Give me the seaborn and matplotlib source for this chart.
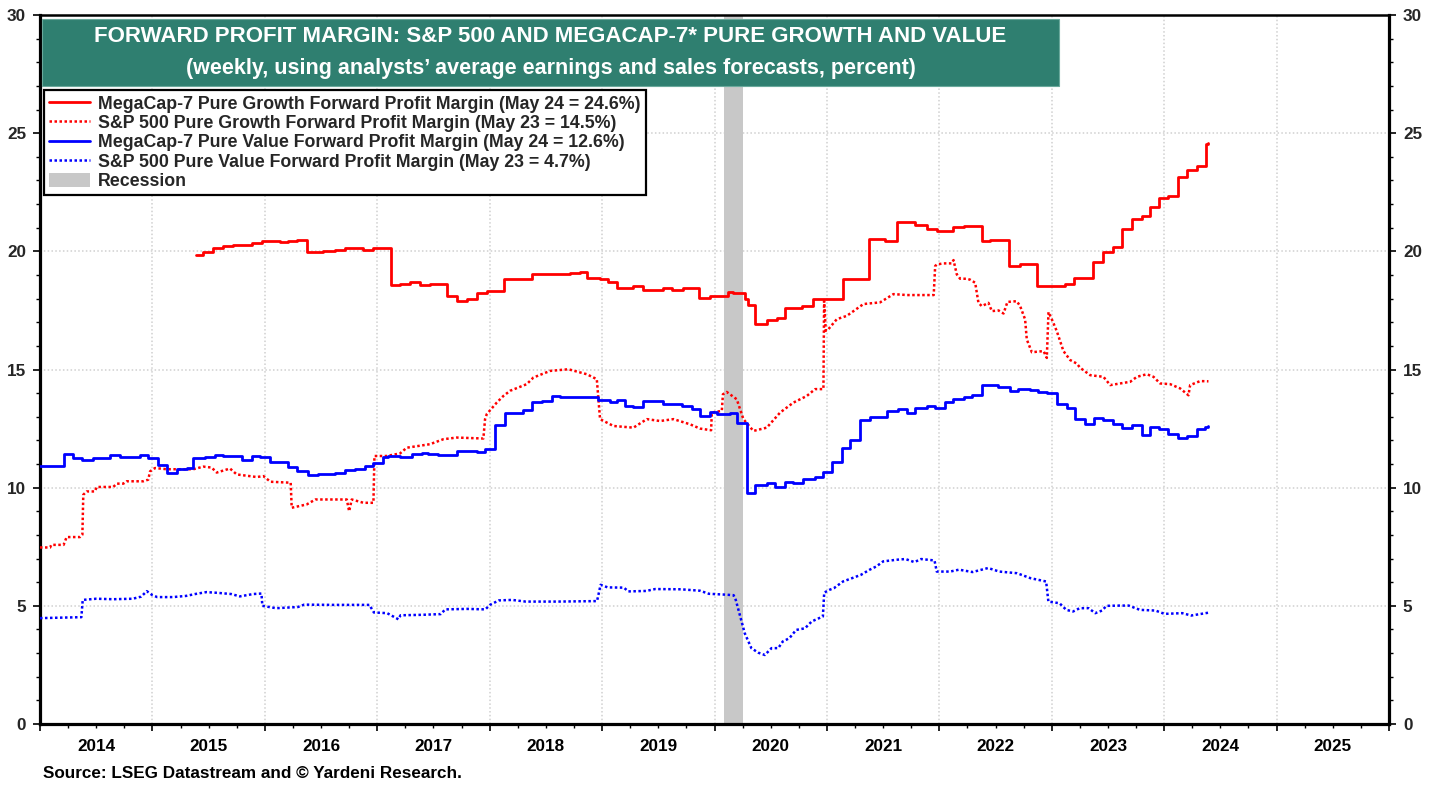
import pandas as pd
import matplotlib
matplotlib.use("Agg")
import matplotlib.pyplot as plt
import matplotlib.ticker as mticker
from matplotlib.lines import Line2D
from matplotlib.patches import Patch, Rectangle
import seaborn as sns

# (decimal year, percent)
mc_growth = [
    (2015.385, 19.85), (2015.45, 19.96), (2015.536, 20.13), (2015.631, 20.21), (2015.72, 20.28),
    (2015.883, 20.37), (2015.972, 20.42), (2016.135, 20.38), (2016.209, 20.42), (2016.284, 20.47),
    (2016.378, 19.96), (2016.521, 20.0), (2016.625, 20.04), (2016.714, 20.13), (2016.877, 20.07),
    (2016.966, 20.13), (2017.123, 18.56), (2017.203, 18.6), (2017.292, 18.69), (2017.381, 18.56),
    (2017.47, 18.62), (2017.618, 18.09), (2017.707, 17.9), (2017.796, 17.98), (2017.885, 18.22),
    (2017.974, 18.32), (2018.128, 18.83), (2018.374, 19.04), (2018.715, 19.08), (2018.804, 19.14),
    (2018.869, 18.88), (2018.982, 18.83), (2019.056, 18.69), (2019.131, 18.43), (2019.279, 18.52),
    (2019.368, 18.38), (2019.546, 18.45), (2019.62, 18.38), (2019.724, 18.45), (2019.866, 18.01),
    (2019.961, 18.09), (2020.124, 18.29), (2020.168, 18.22), (2020.272, 18.0), (2020.302, 17.74),
    (2020.361, 16.94), (2020.465, 17.09), (2020.554, 17.18), (2020.628, 17.61), (2020.776, 17.70),
    (2020.88, 17.98), (2021.147, 18.83), (2021.37, 20.52), (2021.52, 20.42), (2021.622, 21.23),
    (2021.785, 21.12), (2021.889, 20.95), (2021.978, 20.85), (2022.126, 21.04), (2022.215, 21.09),
    (2022.378, 20.42), (2022.452, 20.48), (2022.624, 19.39), (2022.719, 19.46), (2022.867, 18.53),
    (2023.119, 18.62), (2023.199, 18.88), (2023.371, 19.55), (2023.46, 19.99), (2023.549, 20.2),
    (2023.623, 20.93), (2023.712, 21.37), (2023.801, 21.5), (2023.875, 21.89), (2023.95, 22.26),
    (2024.038, 22.36), (2024.127, 23.14), (2024.202, 23.45), (2024.291, 23.62), (2024.374, 24.53),
    (2024.394, 24.6),
]

sp_growth = [
    (2014.0, 7.47), (2014.09, 7.47), (2014.10, 7.58), (2014.21, 7.58), (2014.237, 7.91),
    (2014.356, 7.91), (2014.377, 8.01), (2014.385, 9.70), (2014.415, 9.84), (2014.489, 9.84),
    (2014.504, 10.03), (2014.652, 10.03), (2014.682, 10.17), (2014.741, 10.17), (2014.771, 10.27),
    (2014.919, 10.27), (2014.963, 10.34), (2014.979, 10.69), (2015.023, 10.83), (2015.127, 10.78),
    (2015.364, 10.78), (2015.453, 10.89), (2015.527, 10.85), (2015.572, 10.64), (2015.690, 10.81),
    (2015.750, 10.56), (2015.928, 10.45), (2015.987, 10.49), (2016.05, 10.25), (2016.23, 10.21),
    (2016.239, 9.15), (2016.372, 9.29), (2016.45, 9.5), (2016.729, 9.5), (2016.75, 9.0),
    (2016.773, 9.5), (2016.877, 9.36), (2016.966, 9.36), (2016.975, 11.34), (2017.084, 11.34),
    (2017.203, 11.45), (2017.262, 11.69), (2017.47, 11.84), (2017.588, 12.05), (2017.707, 12.12),
    (2017.944, 12.08), (2017.959, 12.9), (2017.974, 13.11), (2018.063, 13.6), (2018.122, 13.88),
    (2018.182, 14.1), (2018.330, 14.38), (2018.389, 14.66), (2018.537, 14.94), (2018.700, 15.01),
    (2018.864, 14.8), (2018.953, 14.59), (2018.982, 12.9), (2019.101, 12.61), (2019.279, 12.54),
    (2019.398, 12.90), (2019.516, 12.82), (2019.635, 12.90), (2019.783, 12.68), (2019.872, 12.5),
    (2019.970, 12.43), (2019.976, 13.18), (2020.065, 13.25), (2020.075, 13.95), (2020.109, 14.05),
    (2020.198, 13.74), (2020.257, 12.9), (2020.346, 12.4), (2020.465, 12.54), (2020.584, 13.18),
    (2020.702, 13.6), (2020.821, 13.88), (2020.895, 14.17), (2020.969, 14.17), (2020.975, 17.9),
    (2020.990, 16.64), (2021.014, 16.71), (2021.088, 17.13), (2021.177, 17.27), (2021.325, 17.77),
    (2021.473, 17.84), (2021.592, 18.19), (2021.711, 18.15), (2021.950, 18.15), (2021.963, 19.38),
    (2021.98, 19.45), (2022.04, 19.49), (2022.11, 19.49), (2022.126, 19.63), (2022.155, 19.03),
    (2022.185, 18.84), (2022.244, 18.84), (2022.274, 18.80), (2022.319, 18.67), (2022.348, 17.82),
    (2022.378, 17.68), (2022.437, 17.82), (2022.467, 17.47), (2022.526, 17.50), (2022.571, 17.37),
    (2022.606, 17.86), (2022.689, 17.89), (2022.719, 17.68), (2022.763, 17.12), (2022.778, 16.27),
    (2022.823, 15.73), (2022.927, 15.78), (2022.956, 15.49), (2022.971, 17.43), (2023.001, 17.12),
    (2023.045, 16.62), (2023.104, 15.78), (2023.164, 15.40), (2023.223, 15.25), (2023.253, 15.07),
    (2023.342, 14.76), (2023.460, 14.69), (2023.520, 14.34), (2023.609, 14.41), (2023.698, 14.48),
    (2023.757, 14.69), (2023.846, 14.80), (2023.905, 14.69), (2023.964, 14.41), (2024.053, 14.38),
    (2024.142, 14.20), (2024.216, 13.91), (2024.231, 14.34), (2024.320, 14.51), (2024.394, 14.5),
]

mc_value = [
    (2014.0, 10.92), (2014.215, 11.43), (2014.297, 11.24), (2014.371, 11.19), (2014.474, 11.24),
    (2014.623, 11.38), (2014.712, 11.30), (2014.890, 11.38), (2014.964, 11.24), (2015.053, 10.96),
    (2015.127, 10.62), (2015.216, 10.81), (2015.305, 10.85), (2015.364, 11.24), (2015.468, 11.30),
    (2015.557, 11.38), (2015.631, 11.33), (2015.794, 11.17), (2015.883, 11.33), (2015.957, 11.30),
    (2016.046, 11.10), (2016.209, 10.88), (2016.284, 10.71), (2016.387, 10.52), (2016.476, 10.56),
    (2016.625, 10.61), (2016.714, 10.75), (2016.803, 10.81), (2016.891, 10.92), (2016.966, 11.06),
    (2017.049, 11.30), (2017.099, 11.34), (2017.203, 11.30), (2017.307, 11.43), (2017.396, 11.47),
    (2017.455, 11.41), (2017.544, 11.37), (2017.707, 11.55), (2017.885, 11.51), (2017.959, 11.62),
    (2018.048, 12.66), (2018.137, 13.18), (2018.300, 13.28), (2018.374, 13.64), (2018.463, 13.67),
    (2018.552, 13.88), (2018.626, 13.84), (2018.967, 13.71), (2019.071, 13.63), (2019.131, 13.70),
    (2019.205, 13.46), (2019.279, 13.42), (2019.368, 13.66), (2019.546, 13.56), (2019.635, 13.52),
    (2019.709, 13.46), (2019.798, 13.32), (2019.872, 13.04), (2019.961, 13.21), (2020.020, 13.11),
    (2020.139, 13.18), (2020.204, 12.75), (2020.285, 9.79), (2020.361, 10.10), (2020.465, 10.18),
    (2020.539, 10.04), (2020.628, 10.24), (2020.702, 10.18), (2020.791, 10.38), (2020.895, 10.44),
    (2020.969, 10.66), (2021.043, 11.09), (2021.132, 11.67), (2021.206, 12.01), (2021.295, 12.85),
    (2021.384, 12.99), (2021.533, 13.25), (2021.636, 13.32), (2021.711, 13.18), (2021.785, 13.36),
    (2021.889, 13.46), (2021.963, 13.36), (2022.052, 13.63), (2022.126, 13.76), (2022.215, 13.82),
    (2022.295, 13.93), (2022.378, 14.34), (2022.526, 14.26), (2022.630, 14.10), (2022.704, 14.18),
    (2022.808, 14.12), (2022.882, 14.04), (2022.956, 14.01), (2023.045, 13.53), (2023.134, 13.35),
    (2023.208, 12.92), (2023.297, 12.68), (2023.377, 12.95), (2023.460, 12.85), (2023.549, 12.71),
    (2023.623, 12.54), (2023.712, 12.64), (2023.801, 12.24), (2023.875, 12.57), (2023.950, 12.47),
    (2024.038, 12.29), (2024.127, 12.10), (2024.202, 12.19), (2024.291, 12.47), (2024.365, 12.57),
    (2024.394, 12.6),
]

sp_value = [
    (2014.0, 4.48), (2014.368, 4.52), (2014.38, 5.25), (2014.5, 5.30), (2014.65, 5.28),
    (2014.825, 5.30), (2014.90, 5.39), (2014.95, 5.62), (2015.0, 5.45), (2015.043, 5.37),
    (2015.182, 5.37), (2015.30, 5.42), (2015.381, 5.50), (2015.48, 5.58), (2015.579, 5.55),
    (2015.70, 5.50), (2015.778, 5.40), (2015.897, 5.50), (2015.970, 5.52), (2015.978, 5.00),
    (2016.10, 4.90), (2016.294, 4.95), (2016.35, 5.05), (2016.60, 5.04), (2016.930, 5.04),
    (2016.970, 4.72), (2017.088, 4.69), (2017.188, 4.43), (2017.207, 4.60), (2017.40, 4.62),
    (2017.565, 4.65), (2017.605, 4.85), (2017.80, 4.87), (2017.962, 4.85), (2018.002, 5.04),
    (2018.082, 5.23), (2018.20, 5.25), (2018.320, 5.18), (2018.60, 5.18), (2018.955, 5.20),
    (2018.987, 5.89), (2019.05, 5.78), (2019.194, 5.77), (2019.233, 5.61), (2019.393, 5.63),
    (2019.472, 5.71), (2019.70, 5.70), (2019.87, 5.64), (2019.95, 5.51), (2020.110, 5.47),
    (2020.170, 5.45), (2020.189, 5.25), (2020.229, 4.55), (2020.269, 3.84), (2020.328, 3.21),
    (2020.388, 3.02), (2020.448, 2.92), (2020.507, 3.21), (2020.567, 3.21), (2020.607, 3.49),
    (2020.666, 3.63), (2020.726, 3.98), (2020.805, 4.05), (2020.865, 4.34), (2020.964, 4.55),
    (2020.976, 5.56), (2021.024, 5.68), (2021.063, 5.75), (2021.143, 6.03), (2021.223, 6.17),
    (2021.302, 6.31), (2021.381, 6.53), (2021.441, 6.67), (2021.500, 6.88), (2021.619, 6.95),
    (2021.699, 6.98), (2021.778, 6.85), (2021.838, 6.98), (2021.957, 6.92), (2021.977, 6.45),
    (2022.096, 6.45), (2022.175, 6.53), (2022.295, 6.43), (2022.434, 6.60), (2022.533, 6.45),
    (2022.692, 6.38), (2022.811, 6.17), (2022.950, 6.03), (2022.970, 5.18), (2023.069, 5.11),
    (2023.129, 4.83), (2023.189, 4.76), (2023.248, 4.90), (2023.328, 4.90), (2023.387, 4.69),
    (2023.447, 4.80), (2023.487, 5.00), (2023.605, 5.01), (2023.685, 5.01), (2023.784, 4.83),
    (2023.923, 4.80), (2024.003, 4.66), (2024.161, 4.69), (2024.241, 4.59), (2024.394, 4.71),
]

recession = (2020.085, 2020.25)

labels = [
    "MegaCap-7 Pure Growth Forward Profit Margin (May 24 = 24.6%)",
    "S&P 500 Pure Growth Forward Profit Margin (May 23 = 14.5%)",
    "MegaCap-7 Pure Value Forward Profit Margin (May 24 = 12.6%)",
    "S&P 500 Pure Value Forward Profit Margin (May 23 = 4.7%)",
    "Recession",
]
title_1 = "FORWARD PROFIT MARGIN: S&P 500 AND MEGACAP-7* PURE GROWTH AND VALUE"
title_2 = "(weekly, using analysts\u2019 average earnings and sales forecasts, percent)"
source = "Source: LSEG Datastream and \u00a9 Yardeni Research."


def to_frame(points):
    return pd.DataFrame(points, columns=["year", "margin"])


sns.set_theme(style="white")
plt.rcParams["font.family"] = ["Liberation Sans", "DejaVu Sans"]
plt.rcParams["font.weight"] = "bold"

fig = plt.figure(figsize=(14.4, 7.85), dpi=100)
ax = fig.add_axes([40 / 1440, 61 / 785, 1349 / 1440, 709 / 785])

ax.axvspan(recession[0], recession[1], color="#c8c8c8", lw=0, zorder=1)

dotted = (0, (1, 1))
sns.lineplot(data=to_frame(sp_value), x="year", y="margin", color="#0000ff", lw=1.8,
             linestyle=dotted, estimator=None, sort=False, ax=ax, zorder=3)
sns.lineplot(data=to_frame(sp_growth), x="year", y="margin", color="#ff0000", lw=1.8,
             linestyle=dotted, estimator=None, sort=False, ax=ax, zorder=3)
sns.lineplot(data=to_frame(mc_value), x="year", y="margin", color="#0000ff", lw=2.0,
             drawstyle="steps-post", estimator=None, sort=False, ax=ax, zorder=4)
sns.lineplot(data=to_frame(mc_growth), x="year", y="margin", color="#ff0000", lw=2.0,
             drawstyle="steps-post", estimator=None, sort=False, ax=ax, zorder=4)

# axes, ticks and grid
ax.set_xlim(2014, 2026)
ax.set_ylim(0, 30)
ax.set_xlabel("")
ax.set_ylabel("")
ax.xaxis.set_major_locator(mticker.FixedLocator(list(range(2014, 2027))))
ax.xaxis.set_major_formatter(mticker.NullFormatter())
quarters = [y + q / 4 for y in range(2014, 2026) for q in (1, 2, 3)]
ax.xaxis.set_minor_locator(mticker.FixedLocator(quarters))
ax.xaxis.set_minor_formatter(mticker.FuncFormatter(
    lambda v, p: str(int(v)) if abs(v % 1 - 0.5) < 1e-6 else ""))
ax.yaxis.set_major_locator(mticker.MultipleLocator(5))
ax.yaxis.set_minor_locator(mticker.MultipleLocator(1))

ax.tick_params(axis="x", which="major", direction="out", length=5, width=1.2, color="black", bottom=True)
ax.tick_params(axis="x", which="minor", direction="out", length=3, width=1.0, color="black",
               bottom=True, pad=8, labelsize=12.3, labelcolor="black")
ax.tick_params(axis="y", which="major", direction="out", length=5, width=1.2, color="black",
               left=True, right=True, labelleft=True, labelright=True, labelsize=12.3, pad=5)
ax.tick_params(axis="y", which="minor", direction="out", length=3, width=1.0, color="black",
               left=True, right=True)

ax.grid(True, which="major", color="#d0d0d0", linestyle=(0, (1, 1.5)), lw=1.1)
ax.set_axisbelow(True)
for side, w in {"left": 2.3, "right": 2.3, "bottom": 2.3, "top": 1.8}.items():
    ax.spines[side].set_visible(True)
    ax.spines[side].set_color("black")
    ax.spines[side].set_linewidth(w)

# title box
ax.add_patch(Rectangle((0.0015, 0.8999), 0.7539, 0.0945, transform=ax.transAxes,
                       facecolor="#2f7f70", edgecolor="#6aa99c", lw=0.8, zorder=6))
ax.text(0.3784, 0.969, title_1, transform=ax.transAxes, ha="center", va="center",
        color="white", fontsize=16, fontweight="bold", zorder=7)
ax.text(0.3784, 0.924, title_2, transform=ax.transAxes, ha="center", va="center",
        color="white", fontsize=15.5, fontweight="bold", zorder=7)

# legend
handles = [
    Line2D([], [], color="#ff0000", lw=2.0),
    Line2D([], [], color="#ff0000", lw=1.8, linestyle=dotted),
    Line2D([], [], color="#0000ff", lw=2.0),
    Line2D([], [], color="#0000ff", lw=1.8, linestyle=dotted),
    Patch(facecolor="#c8c8c8", edgecolor="none"),
]
leg = ax.legend(handles, labels, loc="upper left", bbox_to_anchor=(0.003, 0.8942),
                borderaxespad=0, frameon=True, fancybox=False, framealpha=1,
                edgecolor="black", handlelength=2.3, handleheight=0.9, handletextpad=0.45,
                labelspacing=0.1, borderpad=0.3, prop={"size": 12.8, "weight": "bold"})
leg.get_frame().set_linewidth(1.6)
leg.set_zorder(8)

fig.text(43 / 1440, 1 - 773 / 785, source, ha="left", va="center", fontsize=12.3,
         fontweight="bold", color="black")

fig.savefig("out.png", dpi=100, facecolor="white")
